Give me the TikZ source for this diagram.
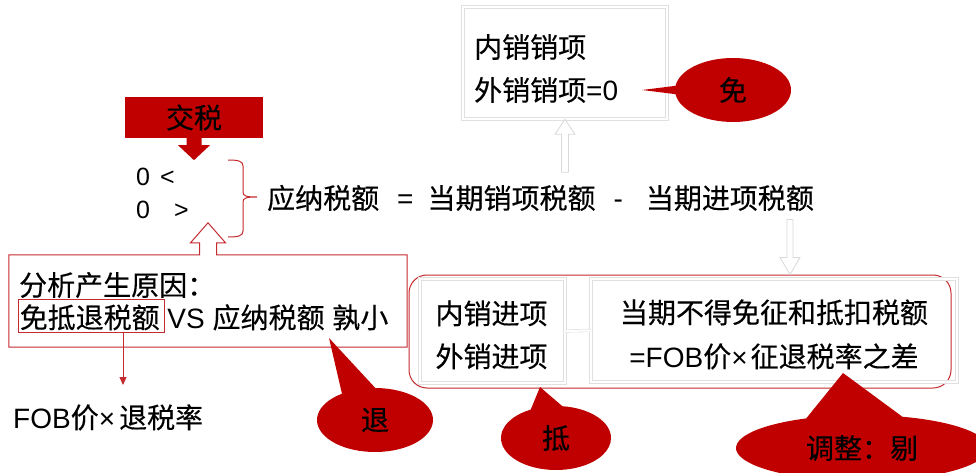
\documentclass[tikz,border=0pt]{standalone}
\usepackage{fontspec}
\setmainfont{Liberation Sans}
\newfontfamily\cjk[FakeBold=0.3]{Noto Sans CJK SC}
\usetikzlibrary{shapes.callouts,calc,arrows.meta}
\definecolor{cred}{HTML}{C00000}
\definecolor{lred}{HTML}{C42A2E}
\begin{document}
\begin{tikzpicture}[x=1pt,y=-1pt,
  txt/.style={font=\fontsize{28pt}{34pt}\selectfont, inner sep=0},
  graybox/.style={draw=black!12, line width=0.6pt, double=white, double distance=2pt, inner sep=0},
  redline/.style={draw=lred, line width=1pt},
  bubble/.style={ellipse callout, fill=cred, inner sep=0, text=black, font=\fontsize{28pt}{34pt}\selectfont\cjk},
  grayarrow/.style={draw=black!15, fill=white, line width=0.8pt}
]
\fill[white] (0,0) rectangle (976,473);
\useasboundingbox (0,0) rectangle (976,473);

% --- tax box with arrow
\node[fill=cred, minimum width=138pt, minimum height=41pt, txt] (tax) at (194,117.5) {\cjk 交税};
\fill[cred] ($(tax.south)+(-7.5,-1)$) -- ($(tax.south)+(-7.5,7)$) -- ($(tax.south)+(-16,7)$)
  -- ($(tax.south)+(0,22)$) -- ($(tax.south)+(16,7)$) -- ($(tax.south)+(7.5,7)$)
  -- ($(tax.south)+(7.5,-1)$) -- cycle;

\node[txt, font=\fontsize{25pt}{30pt}\selectfont, anchor=base west] (lt) at (136,185.5) {0\hspace{10pt}<};
\node[txt, font=\fontsize{25pt}{30pt}\selectfont, anchor=base west] (gt) at (136,218) {0\hspace{24pt}>};

% brace
\draw[lred, line width=1pt] (228,160) .. controls (238,160) and (243,161) .. (243,166) -- (243,192)
  .. controls (243,196) and (246,197) .. (257,197)
  .. controls (246,197) and (243,198) .. (243,202) -- (243,231)
  .. controls (243,236) and (238,237) .. (228,237);

% equation
\node[txt, anchor=base west] (eq) at (267,208.6) {{\cjk 应纳税额}\hspace{18pt}=\hspace{14pt}{\cjk 当期销项税额}\hspace{18pt}-\hspace{23pt}{\cjk 当期进项税额}};

% sales box
\node[graybox, minimum width=204pt, minimum height=112pt] (sales) at (565,63) {};
\node[txt, anchor=base west] (sales1) at (474,57.6) {\cjk 内销销项};
\node[txt, anchor=base west] (sales2) at (474,100.6) {{\cjk 外销销项}=0};

% gray up arrow
\draw[grayarrow] (sales.south) -- ++(10,15) -- ++(-6.5,0) -- ++(0,38) -- ++(-7,0) -- ++(0,-38) -- ++(-6.5,0) -- cycle;

% left analysis box
\node[minimum width=398pt, minimum height=92pt, inner sep=0] (why) at (208,301) {};
\draw[redline] (why.north west) -- ($(why.north)+(-8.5,0)$) -- ($(why.north)+(-8.5,-12)$)
  -- ($(why.north)+(-17.5,-12)$) -- ($(why.north)+(0,-32)$) -- ($(why.north)+(17.5,-12)$)
  -- ($(why.north)+(8.5,-12)$) -- ($(why.north)+(8.5,0)$) -- (why.north east)
  -- (why.south east) -- (why.south west) -- cycle;
\node[txt, anchor=base west] (why1) at (19,295.6) {\cjk 分析产生原因：};
\node[draw=lred, line width=0.8pt, minimum width=146pt, minimum height=33pt, inner sep=0] (mdtbox) at (91,315.5) {};
\node[txt, anchor=base west] (why2) at (19.5,328) {{\cjk 免抵退税额} VS {\cjk 应纳税额} {\cjk 孰小}};

\coordinate (xa) at (123,385);
\draw[lred, line width=0.8pt, -{Triangle[length=8pt,width=7pt]}] (xa |- mdtbox.south) -- (xa);
\node[txt, anchor=base west] (fob) at (13,428) {FOB{\cjk 价}×\hspace{4pt}{\cjk 退税率}};

% deduction group
\node[redline, rounded corners=18pt, minimum width=542pt, minimum height=113pt, inner sep=0] (deduct) at (680,331.5) {};
\node[graybox, minimum width=145pt, minimum height=104pt] (in1) at (492.5,331) {};
\node[graybox, minimum width=366pt, minimum height=103pt] (in2) at (774,330.5) {};
\draw[graybox] (in1.east) -- (in2.west);
\node[txt, anchor=base] (in1a) at (491.5,324) {\cjk 内销进项};
\node[txt, anchor=base] (in1b) at (491.5,367) {\cjk 外销进项};
\node[txt, anchor=base] (in2a) at (774,323) {\cjk 当期不得免征和抵扣税额};
\node[txt, anchor=base] (in2b) at (774,367) {=FOB{\cjk 价}×\hspace{3pt}{\cjk 征退税率之差}};

% gray down arrow
\coordinate (dn) at (790,219);
\draw[grayarrow] (dn |- deduct.north) -- ++(-10,-17) -- ++(7,0) -- ++(0,-38) -- ++(6,0) -- ++(0,38) -- ++(7,0) -- cycle;

% callouts
\coordinate (pmian) at (642,90);
\coordinate (ptui) at (329,338);
\coordinate (pdi) at (540,387);
\coordinate (pti) at (843,373);
\node[bubble, minimum width=116pt, minimum height=64pt, callout absolute pointer={(pmian)}, callout pointer arc=15] (mian) at (733,90) {免};
\node[bubble, minimum width=116pt, minimum height=64pt, callout absolute pointer={(ptui)}, callout pointer arc=35] (tui) at (375,420) {退};
\node[bubble, minimum width=110pt, minimum height=64pt, callout absolute pointer={(pdi)}, callout pointer arc=34] (di) at (556,438) {抵};
\node[bubble, minimum width=252pt, minimum height=66pt, callout absolute pointer={(pti)}, callout pointer arc=45] (ti) at (862,448) {调整：剔};
\end{tikzpicture}
\end{document}
